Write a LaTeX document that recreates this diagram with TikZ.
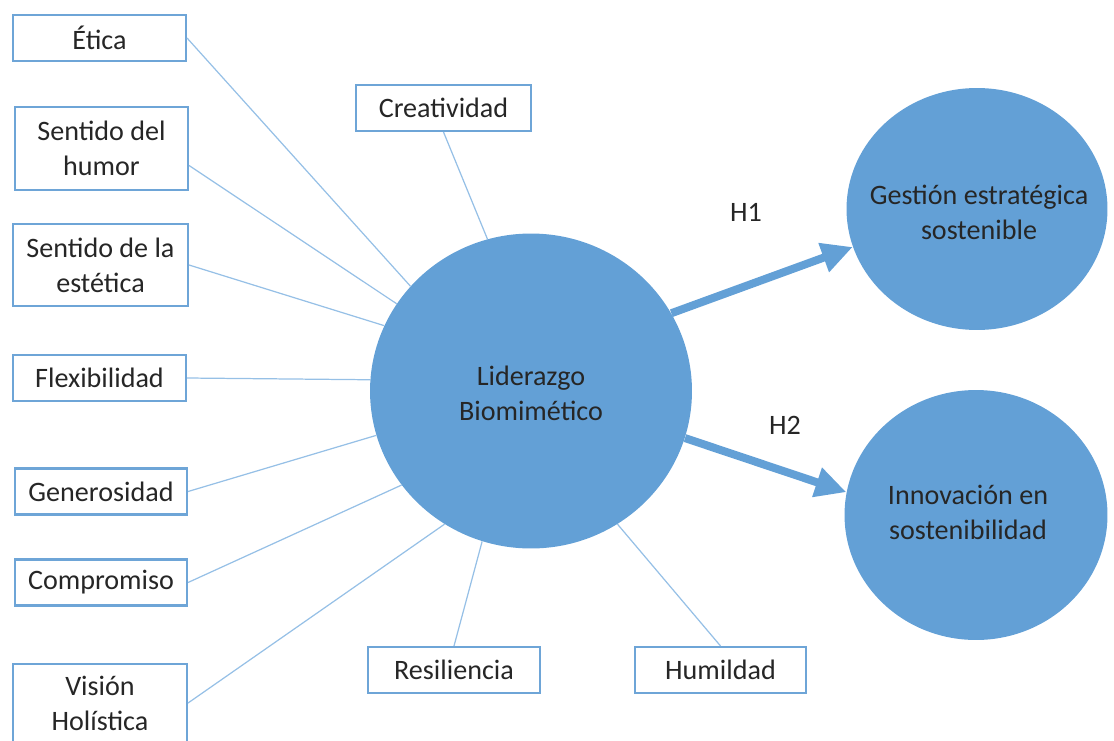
\documentclass[tikz,border=0pt]{standalone}
\usepackage{fontspec}
\setmainfont{Carlito}
\usetikzlibrary{arrows.meta,shapes.geometric}
\definecolor{circfill}{RGB}{99,160,214}
\definecolor{boxline}{RGB}{110,165,215}
\definecolor{thinline}{RGB}{150,192,230}
\definecolor{txt}{RGB}{38,38,38}
\tikzset{
  box/.style={draw=boxline, line width=1.2pt, fill=white, minimum height=0.92cm, align=center, inner sep=0pt, text=txt, font=\fontsize{16}{20}\selectfont},
  bigcirc/.style={ellipse, fill=circfill, inner sep=0pt},
  ctext/.style={align=center, text=txt, inner sep=0pt, font=\fontsize{16}{20}\selectfont},
  link/.style={draw=thinline, line width=0.7pt},
  arr/.style={draw=circfill, line width=0.16cm, -{Triangle[length=0.62cm,width=0.58cm]}},
  hlab/.style={text=txt, font=\fontsize{16}{20}\selectfont}
}
\begin{document}
\begin{tikzpicture}[x=0.02cm,y=-0.02cm]
\useasboundingbox (0,0) rectangle (1114,740);
% circles
\node[bigcirc, minimum width=6.44cm, minimum height=6.3cm] (main) at (531,391) {};
\node[ctext] (maintext) at (531,393) {Liderazgo\\Biomimético};
\node[bigcirc, minimum width=5.22cm, minimum height=4.84cm] (gest) at (977,209) {};
\node[ctext] (gesttext) at (979,212) {Gestión estratégica\\sostenible};
\node[bigcirc, minimum width=5.26cm, minimum height=5.0cm] (innov) at (976,515) {};
\node[ctext] (innovtext) at (968,512) {Innovación en\\sostenibilidad};
% boxes
\node[box, minimum width=3.46cm] (etica) at (99.5,38) {Ética};
\node[box, minimum width=3.46cm, minimum height=1.66cm] (humor) at (101.5,148.5) {Sentido del\\humor};
\node[box, minimum width=3.5cm, minimum height=1.64cm] (estetica) at (100.5,265) {Sentido de la\\estética};
\node[box, minimum width=3.46cm] (flex) at (99.5,378) {Flexibilidad};
\node[box, minimum width=3.44cm] (gen) at (101,491.5) {Generosidad};
\node[box, minimum width=3.44cm] (comp) at (101,582.5) {Compromiso};
\node[box, minimum width=3.48cm, minimum height=1.56cm] (vision) at (100,703) {Visión\\Holística};
\node[box, minimum width=3.5cm] (crea) at (443.5,108) {Creatividad};
\node[box, minimum width=3.44cm] (resi) at (454,670) {Resiliencia};
\node[box, minimum width=3.42cm] (humi) at (720.5,670) {Humildad};
% thin links
\draw[link] (etica.east) -- (main.139);
\draw[link] ([yshift=-0.34cm]humor.east) -- (main.147);
\draw[link] (estetica.east) -- (main.156);
\draw[link] (flex.east) -- (main.176);
\draw[link] (gen.east) -- (main.196);
\draw[link] (comp.east) -- (main.216);
\draw[link] (vision.east) -- (main.237);
\draw[link] (crea.south) -- (main.106);
\draw[link] (resi.north) -- (main.252);
\draw[link] (humi.north) -- (main.303);
% arrows
\draw[arr] (main.29) -- (gest.197);
\draw[arr] (main.343) -- (innov.170);
\node[hlab] (h1) at (746,212) {H1};
\node[hlab] (h2) at (785,425) {H2};
\end{tikzpicture}
\end{document}
